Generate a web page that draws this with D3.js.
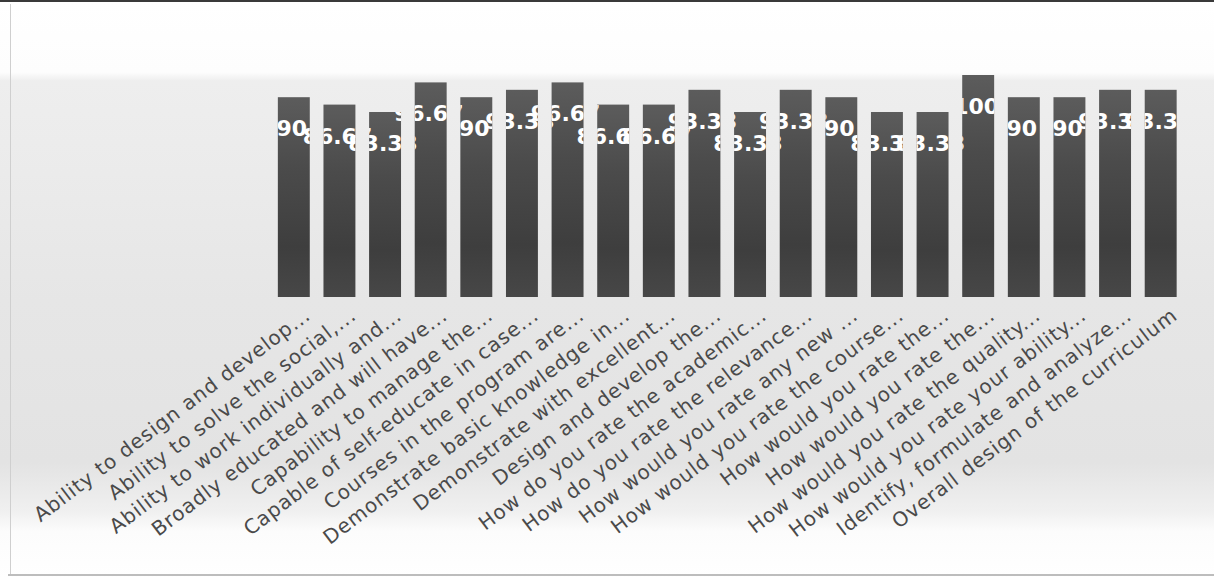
<!DOCTYPE html>
<html>
<head>
<meta charset="utf-8">
<script src="https://cdn.jsdelivr.net/npm/d3@7"></script>
<style>
  html, body { margin: 0; padding: 0; background: #ffffff; }
  svg { display: block; }
</style>
</head>
<body>
<svg id="chart" width="1214" height="578"></svg>
<script>
const categories = [
  "Ability to design and develop...",
  "Ability to solve the social,...",
  "Ability to work individually and...",
  "Broadly educated and will have...",
  "Capability to manage the...",
  "Capable of self-educate in case...",
  "Courses in the program are...",
  "Demonstrate basic knowledge in...",
  "Demonstrate with excellent...",
  "Design and develop the...",
  "How do you rate the academic...",
  "How do you rate the relevance...",
  "How would you rate any new ...",
  "How would you rate the course...",
  "How would you rate the...",
  "How would you rate the...",
  "How would you rate the quality...",
  "How would you rate your ability...",
  "Identify, formulate and analyze...",
  "Overall design of the curriculum"
];
const values = [90, 86.67, 83.33, 96.67, 90, 93.33, 96.67, 86.67, 86.67, 93.33,
                83.33, 93.33, 90, 83.33, 83.33, 100, 90, 90, 93.33, 93.33];
const valueLabels = ["90", "86.67", "83.33", "96.67", "90", "93.33", "96.67", "86.67", "86.67", "93.33",
                     "83.33", "93.33", "90", "83.33", "83.33", "100", "90", "90", "93.33", "93.33"];
const yDomain = [0, 100];

const svg = d3.select("#chart");
const W = 1214, H = 578;
const defs = svg.append("defs");

// background (scanned page look)
const bg = defs.append("linearGradient").attr("id", "bg")
  .attr("x1", 0).attr("y1", 0).attr("x2", 0).attr("y2", 1);
[[0, "#ffffff"], [0.125, "#fdfdfd"], [0.14, "#eeeeee"], [0.3, "#ebebeb"], [0.52, "#e6e6e6"],
 [0.8, "#e3e3e3"], [0.885, "#f0f0f0"], [0.92, "#fcfcfc"], [1, "#ffffff"]]
  .forEach(([o, c]) => bg.append("stop").attr("offset", o).attr("stop-color", c));
svg.append("rect").attr("x", 0).attr("y", 0).attr("width", W).attr("height", H).attr("fill", "url(#bg)");

// bar gradient
const bgBar = defs.append("linearGradient").attr("id", "barg")
  .attr("x1", 0).attr("y1", 0).attr("x2", 0).attr("y2", 1);
[[0, "#5c5c5c"], [0.35, "#4b4b4b"], [0.75, "#3e3e3e"], [1, "#474747"]]
  .forEach(([o, c]) => bgBar.append("stop").attr("offset", o).attr("stop-color", c));

// frame lines
svg.append("rect").attr("x", 0).attr("y", 0).attr("width", W).attr("height", 2).attr("fill", "#3a3a3a");
svg.append("rect").attr("x", 10).attr("y", 4).attr("width", 1).attr("height", 570).attr("fill", "#cfcfcf");
svg.append("rect").attr("x", 8).attr("y", 574).attr("width", W - 8).attr("height", 2).attr("fill", "#bdbdbd");

const x = d3.scaleBand().domain(categories.map((d, i) => i)).range([271, 1183.5]).paddingInner(0.3).paddingOuter(0.15);
const y = d3.scaleLinear().domain(yDomain).range([297, 75]);

const g = svg.append("g");

g.selectAll("rect.bar").data(values).join("rect")
  .attr("class", "bar")
  .attr("x", (d, i) => x(i))
  .attr("width", x.bandwidth())
  .attr("y", d => y(d))
  .attr("height", d => y(0) - y(d))
  .attr("fill", "url(#barg)");

// clip value labels to the bars (white text vanishes on the light page)
const clip = defs.append("clipPath").attr("id", "barclip");
clip.selectAll("rect").data(values).join("rect")
  .attr("x", (d, i) => x(i))
  .attr("width", x.bandwidth())
  .attr("y", d => y(d))
  .attr("height", d => y(0) - y(d));

// value labels (white, bold)
g.append("g").attr("clip-path", "url(#barclip)")
  .selectAll("text.val").data(values).join("text")
  .attr("class", "val")
  .attr("x", (d, i) => x(i) + x.bandwidth() / 2 - 2)
  .attr("y", d => y(d) + 39)
  .attr("text-anchor", "middle")
  .attr("font-family", "DejaVu Sans, Verdana, sans-serif")
  .attr("font-weight", "bold")
  .attr("font-size", 22)
  .attr("fill", "#ffffff")
  .text((d, i) => valueLabels[i]);

// category axis labels
const axis = d3.axisBottom(x).tickSize(0).tickFormat(i => categories[i]);
const ax = svg.append("g").attr("transform", `translate(0, ${y(0)})`).call(axis);
ax.select(".domain").remove();
ax.selectAll(".tick text")
  .attr("font-family", "DejaVu Sans, Verdana, sans-serif")
  .attr("font-size", 20)
  .attr("letter-spacing", "0.9px")
  .attr("fill", "#4a4a4a")
  .attr("text-anchor", "end")
  .attr("dy", 0)
  .attr("y", 0)
  .attr("transform", "translate(18, 21) rotate(-37)");
</script>
</body>
</html>
